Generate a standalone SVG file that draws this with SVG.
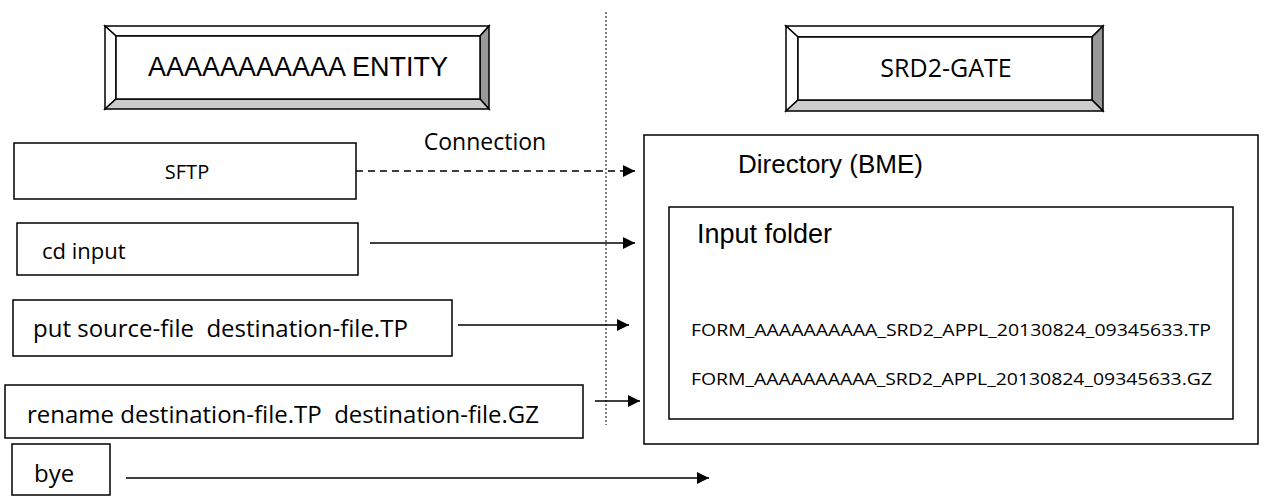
<svg xmlns="http://www.w3.org/2000/svg" width="1264" height="496" viewBox="0 0 1264 496">
<defs>
<marker id="ah" viewBox="0 0 12 12" refX="12" refY="6" markerWidth="12" markerHeight="12" markerUnits="userSpaceOnUse" orient="auto">
<path d="M0,0 L12,6 L0,12 Z" fill="#000"/>
</marker>
<style>
.box{fill:#fff;stroke:#000;stroke-width:1.5}
.bv{stroke:#000;stroke-width:1.5;stroke-linejoin:miter}
.lt{fill:#fff}
.dk{fill:#999}
.md{fill:#ccc}
.con{stroke:#000;stroke-width:1.5;fill:none;marker-end:url(#ah)}
.os{font-family:"Open Sans","Noto Sans",sans-serif;fill:#000}
.ls{font-family:"Liberation Sans",Arial,sans-serif;fill:#000}
</style>
</defs>
<rect width="1264" height="496" fill="#fff"/>
<line x1="606" y1="12" x2="606" y2="425" stroke="#000" stroke-width="1" stroke-dasharray="2,2"/>
<g id="entity">
<polygon class="bv lt" points="105,26 489,26 480,36 116,36"/>
<polygon class="bv lt" points="105,26 116,36 116,99 105,109"/>
<polygon class="bv dk" points="489,26 489,109 480,99 480,36"/>
<polygon class="bv md" points="105,109 116,99 480,99 489,109"/>
<rect class="box" x="116" y="36" width="364" height="63"/>
<text class="ls" x="298" y="76" font-size="27" text-anchor="middle">AAAAAAAAAAA ENTITY</text>
</g>
<g id="gate">
<polygon class="bv lt" points="786,26 1103,26 1092,37 798,37"/>
<polygon class="bv lt" points="786,26 798,37 798,100 786,111"/>
<polygon class="bv dk" points="1103,26 1103,111 1092,100 1092,37"/>
<polygon class="bv md" points="786,111 798,100 1092,100 1103,111"/>
<rect class="box" x="798" y="37" width="294" height="63"/>
<text class="os" x="946" y="77" font-size="25" text-anchor="middle">SRD2-GATE</text>
</g>
<g id="sftp">
<rect class="box" x="14" y="143" width="342" height="56"/>
<text class="os" x="187" y="179" font-size="20" text-anchor="middle">SFTP</text>
</g>
<g id="cd">
<rect class="box" x="17" y="223" width="341" height="52"/>
<text class="os" x="42" y="259" font-size="22">cd input</text>
</g>
<g id="put">
<rect class="box" x="13" y="300" width="439" height="56"/>
<text class="os" x="33" y="337" font-size="24" xml:space="preserve">put source-file  destination-file.TP</text>
</g>
<g id="rename">
<rect class="box" x="5" y="385" width="578" height="53"/>
<text class="os" x="27" y="423" font-size="24" xml:space="preserve">rename destination-file.TP  destination-file.GZ</text>
</g>
<g id="bye">
<rect class="box" x="12" y="444" width="98" height="51"/>
<text class="os" x="34" y="482" font-size="24">bye</text>
</g>
<g id="directory">
<rect class="box" x="644" y="135" width="614" height="309"/>
<text class="ls" x="738" y="173" font-size="26">Directory (BME)</text>
</g>
<g id="input-folder">
<rect class="box" x="669" y="207" width="564" height="212"/>
<text class="ls" x="697" y="243" font-size="27">Input folder</text>
<text class="os" x="691" y="336" font-size="17" textLength="520" lengthAdjust="spacingAndGlyphs">FORM_AAAAAAAAAA_SRD2_APPL_20130824_09345633.TP</text>
<text class="os" x="691" y="385" font-size="17" textLength="521" lengthAdjust="spacingAndGlyphs">FORM_AAAAAAAAAA_SRD2_APPL_20130824_09345633.GZ</text>
</g>
<g id="connectors">
<path class="con" d="M356,171 H635" stroke-dasharray="7,5"/>
<text class="os" x="485" y="150" font-size="23" text-anchor="middle">Connection</text>
<path class="con" d="M370,243 H635"/>
<path class="con" d="M458,325 H629"/>
<path class="con" d="M595,401 H640"/>
<path class="con" d="M126,478 H709"/>
</g>
</svg>
